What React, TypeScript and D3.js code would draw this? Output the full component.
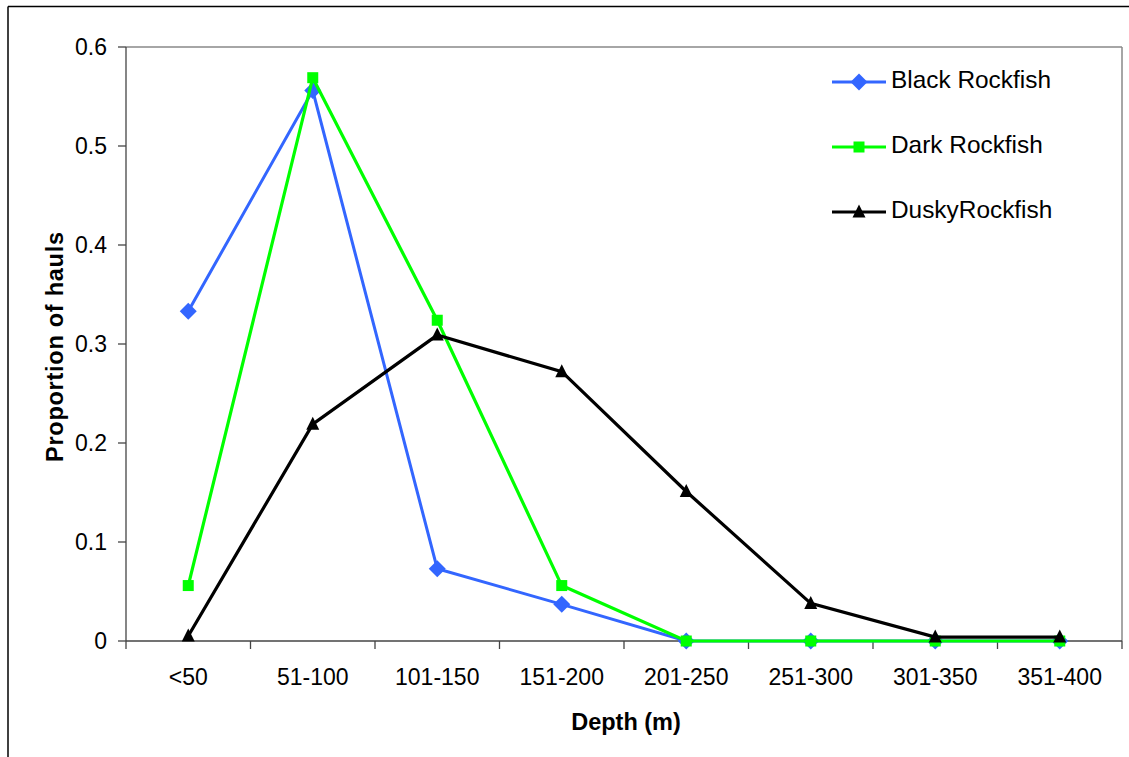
import React from "react";
import * as d3 from "d3";

const categories = ["<50", "51-100", "101-150", "151-200", "201-250", "251-300", "301-350", "351-400"];
const blackRockfish = [0.333, 0.556, 0.073, 0.037, 0, 0, 0, 0];
const darkRockfish = [0.056, 0.569, 0.324, 0.056, 0, 0, 0, 0];
const duskyRockfish = [0.005, 0.219, 0.309, 0.272, 0.151, 0.038, 0.004, 0.004];
const yTicks = [0, 0.1, 0.2, 0.3, 0.4, 0.5, 0.6];
const seriesNames = ["Black Rockfish", "Dark Rockfish", "DuskyRockfish"];

const W = 1129, H = 757;
const L = 126, R = 1122, T = 47, B = 641;
const FONT = "'Liberation Sans', Arial, sans-serif";

type Series = { name: string; values: number[]; color: string; width: number; marker: string };

const series: Series[] = [
  { name: seriesNames[0], values: blackRockfish, color: "#3366FF", width: 3, marker: "diamond" },
  { name: seriesNames[1], values: darkRockfish, color: "#00FF00", width: 3.2, marker: "square" },
  { name: seriesNames[2], values: duskyRockfish, color: "#000000", width: 3.2, marker: "triangle" },
];

function Marker({ type, x, y, color }: { type: string; x: number; y: number; color: string }) {
  if (type === "diamond") {
    const s = 8.5;
    return <path d={`M${x},${y - s}L${x + s},${y}L${x},${y + s}L${x - s},${y}Z`} fill={color} />;
  }
  if (type === "square") {
    const s = 5.5;
    return <rect x={x - s} y={y - s} width={2 * s} height={2 * s} fill={color} />;
  }
  const s = 6.5;
  return <path d={`M${x},${y - s - 1}L${x + s},${y + s - 1}L${x - s},${y + s - 1}Z`} fill={color} />;
}

export default function App() {
  const x = d3.scaleBand<string>().domain(categories).range([L, R]);
  const y = d3.scaleLinear().domain([0, 0.6]).range([B, T]);
  const cx = (c: string) => (x(c) as number) + x.bandwidth() / 2;
  const line = d3
    .line<number>()
    .x((_, i) => cx(categories[i]))
    .y((v) => y(v));
  const bounds = [...categories.map((c) => x(c) as number), R];

  return (
    <svg width={W} height={H} style={{ position: "absolute", left: 0, top: 0, background: "#fff" }} fontFamily={FONT}>
      <rect x={0} y={0} width={W} height={H} fill="#fff" />
      {/* outer border */}
      <line x1={8} y1={6.5} x2={W} y2={6.5} stroke="#000" strokeWidth={1.5} />
      <line x1={8} y1={6.5} x2={8} y2={H} stroke="#000" strokeWidth={1.5} />
      {/* plot area border */}
      <line x1={L} y1={T} x2={R} y2={T} stroke="#888" strokeWidth={1.5} />
      <line x1={R} y1={T} x2={R} y2={B} stroke="#888" strokeWidth={1.5} />
      {/* axes */}
      <line x1={L} y1={T} x2={L} y2={B} stroke="#444" strokeWidth={1.3} />
      <line x1={L} y1={B} x2={R} y2={B} stroke="#444" strokeWidth={1.3} />
      {yTicks.map((t) => (
        <g key={t}>
          <line x1={L - 8} x2={L} y1={y(t)} y2={y(t)} stroke="#444" strokeWidth={1.3} />
          <text x={107} y={y(t) + 8} textAnchor="end" fontSize={23} fill="#000">
            {t === 0 ? "0" : t.toFixed(1)}
          </text>
        </g>
      ))}
      {bounds.map((b, i) => (
        <line key={i} x1={b} x2={b} y1={B} y2={B + 8} stroke="#444" strokeWidth={1.3} />
      ))}
      {categories.map((c) => (
        <text key={c} x={cx(c)} y={685} textAnchor="middle" fontSize={23} fill="#000">
          {c}
        </text>
      ))}
      <text x={626} y={730} textAnchor="middle" fontSize={23.5} fontWeight="bold" fill="#000">
        Depth (m)
      </text>
      <text
        transform={`translate(63,347) rotate(-90)`}
        textAnchor="middle"
        fontSize={23.5}
        fontWeight="bold"
        fill="#000"
        textLength={230}
        lengthAdjust="spacing"
      >
        Proportion of hauls
      </text>
      {series.map((s) => (
        <g key={s.name}>
          <path d={line(s.values) || ""} fill="none" stroke={s.color} strokeWidth={s.width} strokeLinejoin="miter" />
          {s.values.map((v, i) => (
            <Marker key={i} type={s.marker} x={cx(categories[i])} y={y(v)} color={s.color} />
          ))}
        </g>
      ))}
      {/* legend */}
      {series.map((s, i) => {
        const ly = 82 + i * 65;
        return (
          <g key={s.name}>
            <line x1={832} x2={886} y1={ly} y2={ly} stroke={s.color} strokeWidth={s.width} />
            <Marker type={s.marker} x={859} y={ly} color={s.color} />
            <text x={891} y={ly + 6} fontSize={24.4} fill="#000">
              {s.name}
            </text>
          </g>
        );
      })}
    </svg>
  );
}
